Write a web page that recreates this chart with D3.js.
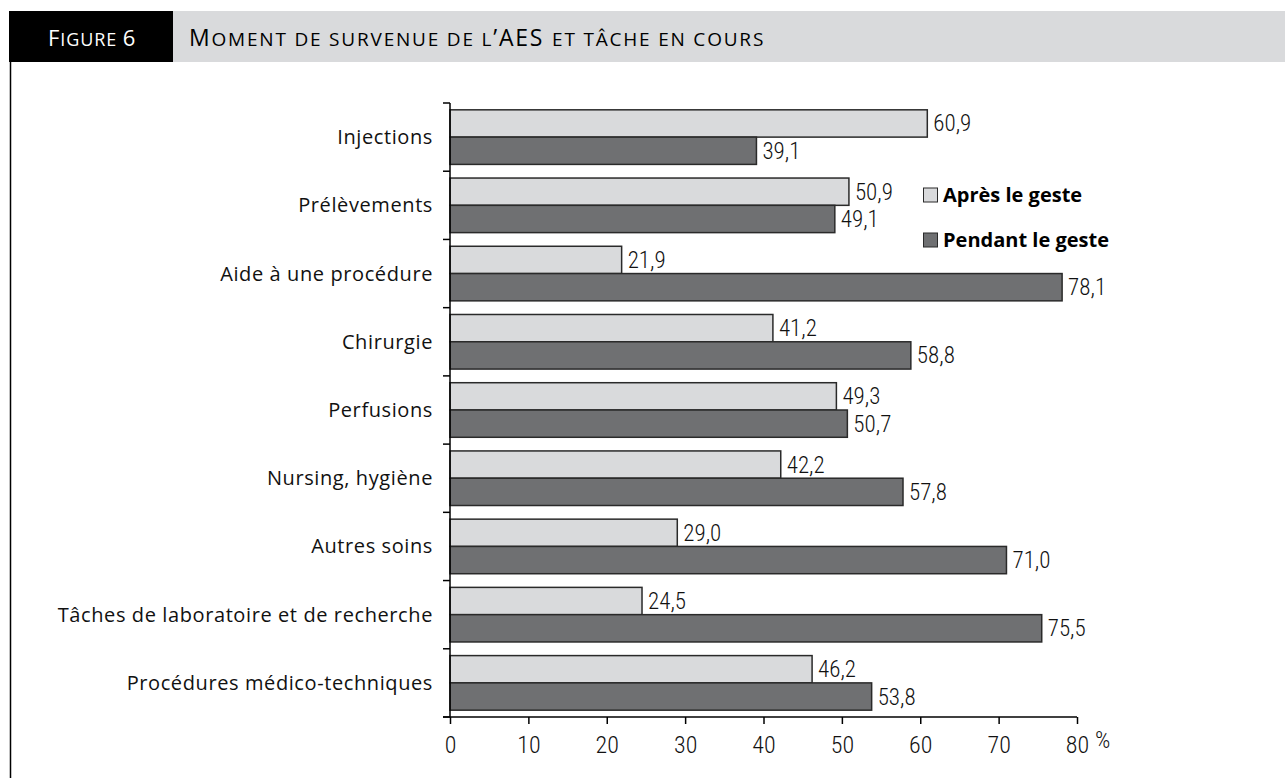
<!DOCTYPE html>
<html><head><meta charset="utf-8">
<script src="https://cdn.jsdelivr.net/npm/d3@7"></script>
<style>body{margin:0;background:#fff}svg{display:block}</style>
</head><body>
<svg id="c" width="1285" height="778"></svg>
<script>
const categories = ["Injections","Prélèvements","Aide à une procédure","Chirurgie","Perfusions","Nursing, hygiène","Autres soins","Tâches de laboratoire et de recherche","Procédures médico-techniques"];
const apres = [60.9,50.9,21.9,41.2,49.3,42.2,29.0,24.5,46.2];
const pendant = [39.1,49.1,78.1,58.8,50.7,57.8,71.0,75.5,53.8];
const seriesNames = ["Après le geste","Pendant le geste"];
const xTicks = [0,10,20,30,40,50,60,70,80];
const figLabel = "Figure 6";
const title = "Moment de survenue de l’AES et tâche en cours";
const colors = ["#d9dadc","#6f7072"];
const cond = "'Roboto Condensed','Liberation Sans Narrow',sans-serif";
const txt = "'Open Sans','Noto Sans',sans-serif";

const svg = d3.select("#c");
function smallCaps(sel, s, big, small){
  let buf = "", cur = null;
  const flush = () => { if(buf){ sel.append("tspan").attr("font-size", cur ? big : small).text(buf.toUpperCase()); buf=""; } };
  for(const ch of s){
    const isUp = ch !== ch.toLowerCase() || /[0-9’]/.test(ch);
    const t = ch === " " ? cur : isUp;
    if(cur === null) cur = t;
    if(t !== cur){ flush(); cur = t; }
    buf += ch;
  }
  flush();
}
// header
svg.append("rect").attr("x",9).attr("y",11).attr("width",1276).attr("height",51).attr("fill","#d9dadc");
svg.append("rect").attr("x",9).attr("y",11).attr("width",164).attr("height",51).attr("fill","#000");
const t1 = svg.append("text").attr("x",48).attr("y",46).attr("fill","#fff").attr("font-family",txt).attr("letter-spacing",0.9);
smallCaps(t1, figLabel, 22, 18);
const t2 = svg.append("text").attr("x",189).attr("y",46).attr("fill","#000").attr("font-family",txt).attr("letter-spacing",1.8);
smallCaps(t2, title, 23, 19);
svg.append("line").attr("x1",10.5).attr("x2",10.5).attr("y1",62).attr("y2",778).attr("stroke","#000").attr("stroke-width",1.5);

const x = d3.scaleLinear().domain([0,80]).range([450,1077]);
const y = d3.scaleBand().domain(categories).range([103,717]).paddingInner(0.2).paddingOuter(0.1);
const ySub = d3.scaleBand().domain([0,1]).range([0,y.bandwidth()]);

const g = svg.append("g");
const data = categories.map((c,i)=>({c, v:[apres[i],pendant[i]]}));
const grp = g.selectAll("g.cat").data(data).join("g").attr("transform",d=>`translate(0,${y(d.c)})`);
grp.selectAll("rect").data(d=>d.v.map((v,k)=>({v,k}))).join("rect")
  .attr("x",x(0)).attr("y",d=>ySub(d.k)).attr("width",d=>x(d.v)-x(0)).attr("height",ySub.bandwidth())
  .attr("fill",d=>colors[d.k]).attr("stroke","#2a2a2a").attr("stroke-width",1.5);
grp.selectAll("text").data(d=>d.v.map((v,k)=>({v,k}))).join("text")
  .attr("x",d=>x(d.v)+6).attr("y",d=>ySub(d.k)+ySub.bandwidth()/2+8)
  .attr("font-family",cond).attr("font-weight",300).attr("font-size",23).attr("fill","#111")
  .text(d=>d.v.toFixed(1).replace(".",","));

// y axis
const yAxis = g.append("g").attr("transform",`translate(${x(0)},0)`);
yAxis.append("line").attr("x1",0).attr("x2",0).attr("y1",103).attr("y2",717).attr("stroke","#000").attr("stroke-width",1.5);
const step = (717-103)/categories.length;
d3.range(categories.length+1).forEach(i=>{
  yAxis.append("line").attr("x1",-7).attr("x2",0).attr("y1",103+i*step).attr("y2",103+i*step).attr("stroke","#000").attr("stroke-width",1.5);
});
g.selectAll("text.cat").data(categories).join("text").attr("class","cat")
  .attr("x",433).attr("y",d=>y(d)+y.bandwidth()/2+7).attr("text-anchor","end")
  .attr("font-family",txt).attr("font-size",20).attr("letter-spacing",0.6).attr("fill","#111").text(d=>d);

// x axis
const xa = g.append("g").attr("transform","translate(0,717)")
  .call(d3.axisBottom(x).tickValues(xTicks).tickSize(7).tickFormat(d=>d));
xa.select(".domain").attr("stroke","#000").attr("stroke-width",1.5).attr("d","M443,0H1077");
xa.selectAll(".tick line").attr("stroke","#000").attr("stroke-width",1.5);
xa.selectAll(".tick text").attr("font-family",cond).attr("font-weight",300).attr("font-size",24).attr("fill","#111").attr("dy","1.1em");
svg.append("text").attr("x",1095).attr("y",748).attr("font-family",cond).attr("font-weight",300).attr("font-size",24).attr("fill","#111").text("%");

// legend
const leg = svg.append("g");
seriesNames.forEach((s,i)=>{
  const yy = 188 + i*45;
  leg.append("rect").attr("x",923.5).attr("y",yy).attr("width",14).attr("height",14).attr("fill",colors[i]).attr("stroke","#2a2a2a").attr("stroke-width",1);
  leg.append("text").attr("x",943).attr("y",yy+14).attr("font-family",txt).attr("font-size",20).attr("font-weight","bold").text(s);
});
</script>
</body></html>
